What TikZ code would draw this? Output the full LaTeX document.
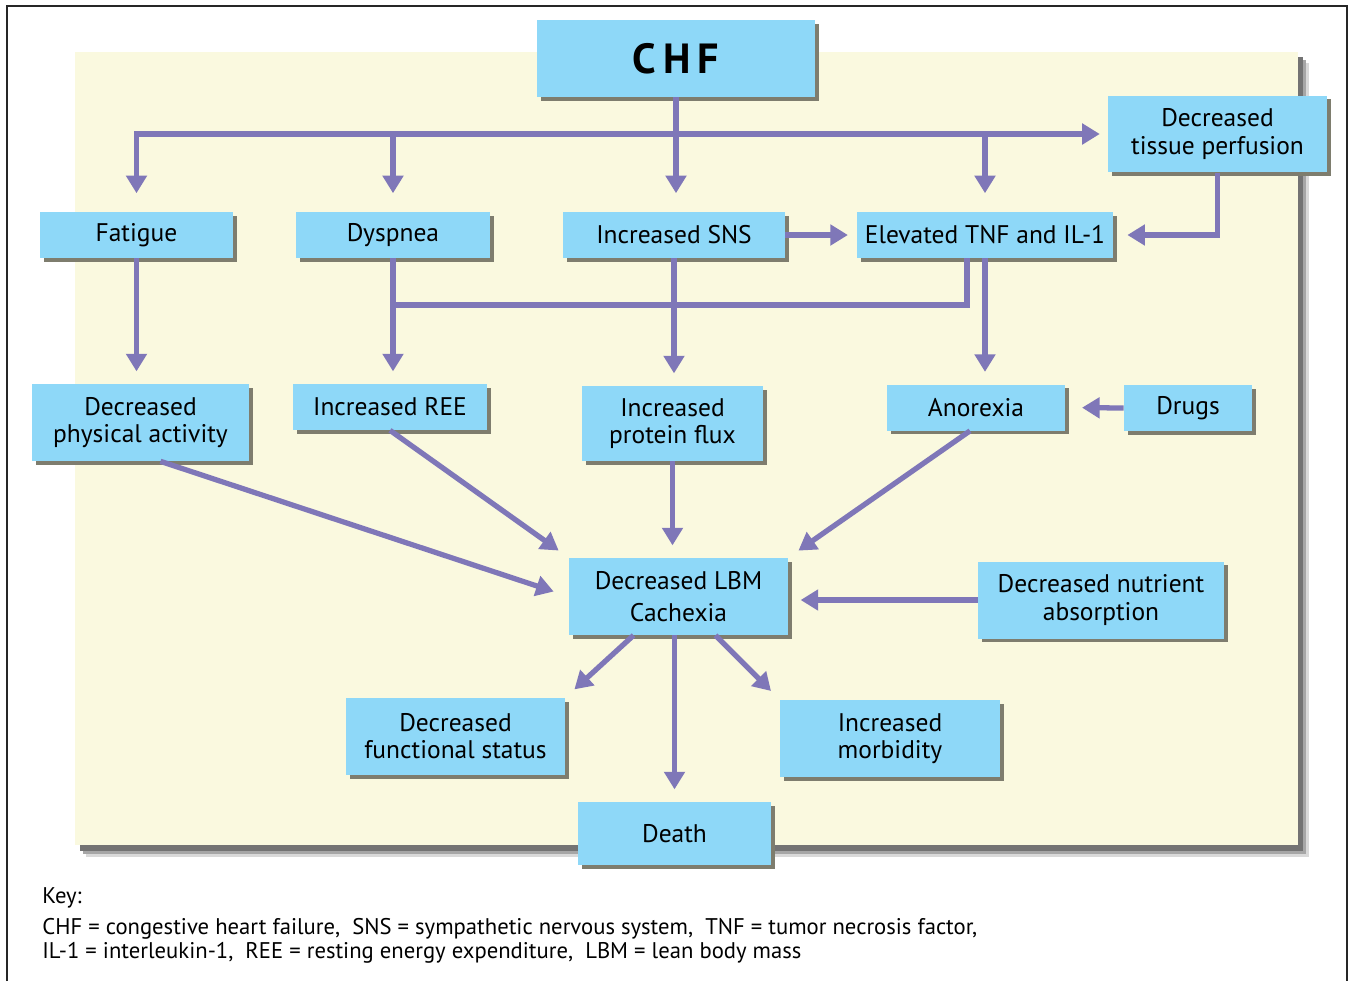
\documentclass[tikz,border=0pt]{standalone}
\usepackage{fontspec}
\setmainfont{PT Sans}
\usetikzlibrary{arrows.meta,shadows}
\definecolor{boxblue}{HTML}{8ED8F8}
\definecolor{shadowgray}{HTML}{7E7D6E}
\definecolor{arrowpurple}{HTML}{7F77B8}
\definecolor{panelyellow}{HTML}{FAF9DF}
\begin{document}
\begin{tikzpicture}[x=0.02cm, y=-0.02cm,
  box/.style={fill=boxblue, align=center, inner sep=2pt,
              font=\fontsize{14.5}{15.5}\selectfont,
              drop shadow={shadow xshift=2.3pt, shadow yshift=-2pt, fill=shadowgray, opacity=1}},
  sgl/.style={minimum height=0.92cm},
  dbl/.style={minimum height=1.54cm},
  ar/.style={-{Triangle[length=10pt,width=11.5pt]}, line width=3pt, draw=arrowpurple, shorten >=7pt},
  ln/.style={line width=3pt, draw=arrowpurple},
  key/.style={anchor=base west, inner sep=0pt, font=\fontsize{12.9}{14}\selectfont}]
\useasboundingbox (0,0) rectangle (1349,981);
\draw[line width=1.2pt, black!85] (7,981) -- (7,6) -- (1347,6) -- (1347,981);
\fill[black!15] (75,52) ++(11,11) rectangle (1309,857);
\fill[black!35] (75,52) ++(8,8) rectangle (1306,854);
\fill[black!55] (75,52) ++(5,5) rectangle (1303,851);
\fill[panelyellow] (75,52) rectangle (1298,845);

\node[box, minimum width=5.56cm, minimum height=1.54cm,
      font=\fontsize{24}{26}\selectfont\bfseries] (chf) at (676,58.5) {C\hspace{4pt}H\hspace{4pt}F};
\node[box, dbl, minimum width=4.38cm] (perf) at (1217.5,134) {Decreased\\tissue perfusion};
\node[box, sgl, minimum width=3.86cm] (fat)  at (136.5,235) {Fatigue};
\node[box, sgl, minimum width=3.88cm] (dysp) at (393,235) {Dyspnea};
\node[box, sgl, minimum width=4.44cm] (sns)  at (674,235) {Increased SNS};
\node[box, sgl, minimum width=5.12cm] (tnf)  at (985,235) {Elevated TNF and IL-1};
\node[box, dbl, minimum width=4.34cm] (phys) at (140.5,422.5) {Decreased\\physical activity};
\node[box, sgl, minimum width=3.88cm] (ree)  at (390,407) {Increased REE};
\node[box, minimum width=3.62cm, minimum height=1.5cm] (flux) at (672.5,423.5) {Increased\\protein flux};
\node[box, sgl, minimum width=3.56cm] (anor) at (976,407.5) {Anorexia};
\node[box, sgl, minimum width=2.56cm] (drugs) at (1188,408) {Drugs};
\node[box, dbl, minimum width=4.38cm] (lbm)  at (678.5,596.5) {Decreased LBM\\[3pt]Cachexia};
\node[box, dbl, minimum width=4.92cm] (nutr) at (1101,600) {Decreased nutrient\\absorption};
\node[box, dbl, minimum width=4.38cm] (func) at (455.5,736.5) {Decreased\\functional status};
\node[box, dbl, minimum width=4.4cm]  (morb) at (890,738.5) {Increased\\morbidity};
\node[box, minimum width=3.86cm, minimum height=1.26cm] (death) at (674.5,833.5) {Death};

\coordinate (bus) at (0,134);
\coordinate (merge) at (393,305);

\draw[ar, shorten >=10.5pt] (chf.south) -- (chf.south |- bus) -| (fat.north);
\draw[ar, shorten >=4.5pt] (chf.south |- bus) -- (perf.west);
\draw[ar, shorten >=10.5pt] (chf.south) -- (chf.south |- sns.north);
\draw[ar, shorten >=10.5pt] (dysp.north |- bus) -- (dysp.north);
\draw[ar, shorten >=10.5pt] (tnf.north |- bus) -- (tnf.north);
\draw[ar, shorten >=8pt] (perf.south) |- (tnf.east);
\draw[ar, shorten >=5pt] (sns.east) -- (tnf.west);
\draw[ln] ([xshift=-0.36cm]tnf.south) |- (merge);
\draw[ar] (fat.south) -- (fat.south |- phys.north);
\draw[ar] (dysp.south) -- (dysp.south |- ree.north);
\draw[ar] (sns.south) -- (sns.south |- flux.north);
\draw[ar] (tnf.south) -- (tnf.south |- anor.north);
\draw[ar, shorten >=9.5pt] (drugs.west) -- (anor.east);
\draw[ar, shorten >=9pt] ([xshift=0.4cm]phys.south) -- (lbm.west);
\draw[ar] (ree.south) -- (lbm.north west);
\draw[ar] (flux.south) -- (flux.south |- lbm.north);
\draw[ar] ([xshift=-0.12cm]anor.south) -- (lbm.north east);
\draw[ar] (nutr.west) -- (nutr.west -| lbm.east);
\draw[ar] ([xshift=-0.9cm]lbm.south) -- (func.north east);
\draw[ar] ([xshift=0.74cm]lbm.south) -- (morb.north west);
\draw[ar] (death.north |- lbm.south) -- (death.north);

\node[key] (keyhead) at (42,903) {Key:};
\node[key] (keyone) at (42,934) {CHF = congestive heart failure, \ SNS = sympathetic nervous system, \ TNF = tumor necrosis factor,};
\node[key] (keytwo) at (42,958) {IL-1 = interleukin-1, \ REE = resting energy expenditure, \ LBM = lean body mass};
\end{tikzpicture}
\end{document}
